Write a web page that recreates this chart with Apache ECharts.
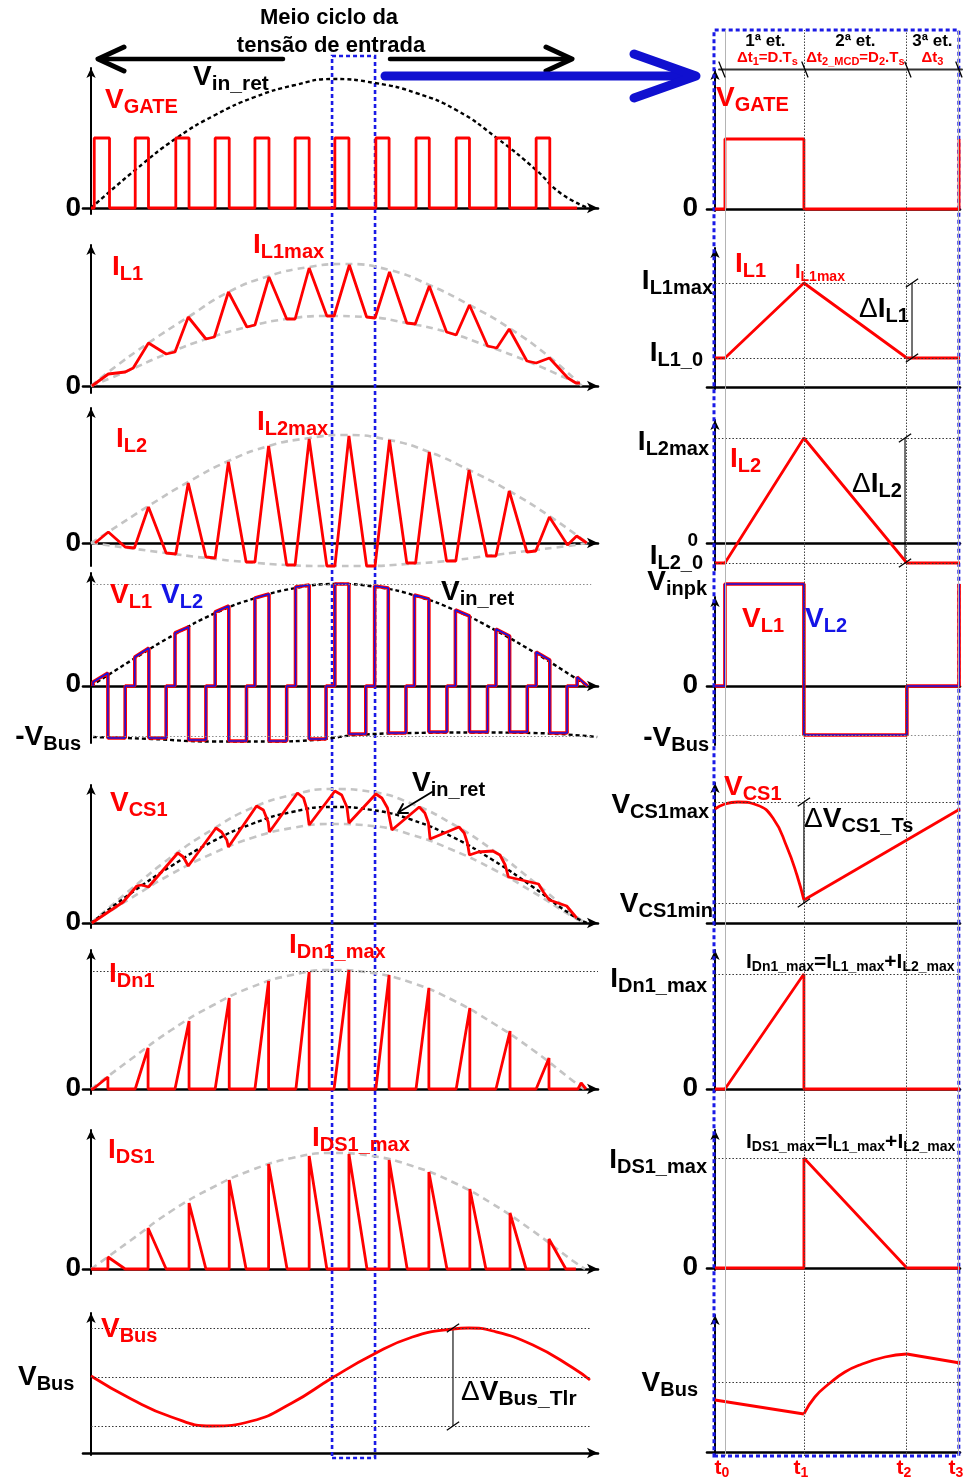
<!DOCTYPE html>
<html lang="pt">
<head>
<meta charset="utf-8">
<title>Formas de onda do conversor</title>
<script src="https://cdn.jsdelivr.net/npm/echarts@6.0.0/dist/echarts.min.js"></script>
<style>
html, body { margin: 0; padding: 0; background: #fff; }
#chart { width: 964px; height: 1479px; }
</style>
</head>
<body>
<div id="chart"></div>
<script>
// ================= Data =================
// Left column: time in switching periods (Ts) across one half cycle of the rectified input.
// Right column: time in Ts across one switching period (t0 = 0).
// Amplitudes are normalised units.

const stageTimes = [0, 0.339, 0.781, 1.0];            // t0, t1, t2, t3
const highlightedPeriod = [6.0, 7.07];                 // period shown in detail on the right

// --- V_GATE (left) ---
const gateRise = [0.08, 1.10, 2.11, 3.09, 4.08, 5.08, 6.07, 7.09, 8.09, 9.09, 10.08, 11.08];
const gateFall = [0.46, 1.43, 2.44, 3.44, 4.43, 5.43, 6.42, 7.42, 8.42, 9.42, 10.42, 11.42];
const gateHigh = 0.70;
const gateEnd = 12.10;
const vinRetGate = [[0,0],[1.10,0.38],[2.13,0.70],[3.09,0.93],[4.08,1.11],[5.08,1.23],[6.00,1.29],[7.07,1.25],[8.09,1.15],[9.09,0.98],[10.10,0.70],[11.08,0.38],[11.68,0.15],[12.37,0]];

// --- I_L1 (left) ---
const iL1 = [[0.02,0],[0.43,0.12],[0.85,0.14],[1.05,0.18],[1.43,0.43],[1.87,0.32],[2.09,0.34],[2.42,0.69],[2.86,0.47],[3.07,0.49],[3.42,0.94],[3.88,0.59],[4.08,0.61],[4.43,1.09],[4.87,0.67],[5.08,0.67],[5.43,1.18],[5.87,0.70],[6.05,0.70],[6.43,1.21],[6.86,0.69],[7.07,0.68],[7.43,1.14],[7.86,0.63],[8.07,0.62],[8.42,1.00],[8.85,0.54],[9.09,0.51],[9.42,0.81],[9.87,0.40],[10.10,0.38],[10.41,0.57],[10.85,0.25],[11.08,0.23],[11.41,0.28],[11.87,0.08],[12.07,0.03],[12.17,0.03]];
const iL1Upper = [[0,0],[0.43,0.14],[1.43,0.43],[2.42,0.69],[3.42,0.94],[4.43,1.10],[5.43,1.19],[6.30,1.22],[7.43,1.16],[8.42,1.01],[9.42,0.81],[10.41,0.58],[11.41,0.29],[12.22,0]];
const iL1Lower = [[0,0],[0.85,0.14],[1.87,0.32],[2.86,0.47],[3.88,0.59],[4.87,0.67],[5.87,0.70],[6.86,0.69],[7.86,0.63],[8.85,0.54],[9.87,0.40],[10.85,0.25],[11.87,0.07],[12.22,0]];

// --- I_L2 (left) ---
const iL2 = [[0.10,0],[0.43,0.11],[0.85,-0.04],[1.08,-0.05],[1.43,0.36],[1.87,-0.10],[2.11,-0.11],[2.42,0.60],[2.86,-0.14],[3.09,-0.15],[3.42,0.81],[3.86,-0.19],[4.08,-0.19],[4.42,0.97],[4.87,-0.22],[5.08,-0.22],[5.43,1.04],[5.87,-0.23],[6.07,-0.23],[6.42,1.07],[6.86,-0.23],[7.07,-0.23],[7.43,1.03],[7.86,-0.20],[8.08,-0.20],[8.42,0.91],[8.85,-0.18],[9.08,-0.18],[9.41,0.73],[9.85,-0.13],[10.08,-0.13],[10.41,0.52],[10.85,-0.09],[11.07,-0.08],[11.41,0.26],[11.86,-0.02],[12.09,0.07],[12.34,0]];
const iL2Upper = [[0,0],[0.43,0.11],[1.43,0.37],[2.42,0.61],[3.42,0.82],[4.42,0.97],[5.43,1.05],[6.30,1.08],[7.43,1.03],[8.42,0.91],[9.41,0.73],[10.41,0.52],[11.41,0.27],[12.35,0]];
const iL2Lower = [[0,0],[1.87,-0.10],[2.86,-0.15],[3.86,-0.19],[4.87,-0.22],[5.87,-0.23],[6.86,-0.23],[7.86,-0.21],[8.85,-0.18],[9.85,-0.13],[10.85,-0.08],[11.86,-0.03],[12.35,0]];

// --- V_L1 / V_L2 (left) ---
const vinRetVL = [[0,0],[1.1,0.28],[2.1,0.52],[3.1,0.73],[4.1,0.88],[5.1,0.98],[6.1,1.02],[7.1,0.99],[8.1,0.90],[9.1,0.75],[10.1,0.55],[11.1,0.32],[11.7,0.17],[12.36,0]];
const negVBusVL = [[0.05,-0.51],[1.5,-0.53],[3.0,-0.555],[4.5,-0.555],[5.6,-0.54],[6.0,-0.52],[6.6,-0.49],[8.0,-0.47],[9.5,-0.465],[11.0,-0.47],[12.6,-0.51]];
const vLLevels = [1.02, -0.50];
const vL = [[0.05,0],[0.05,0.04],[0.42,0.13],[0.42,-0.52],[0.85,-0.52],[0.85,0],[1.09,0],
  [1.09,0.29],[1.44,0.38],[1.44,-0.52],[1.87,-0.52],[1.87,0],[2.09,0],
  [2.09,0.53],[2.43,0.59],[2.43,-0.54],[2.86,-0.54],[2.86,0],[3.09,0],
  [3.09,0.74],[3.43,0.80],[3.43,-0.55],[3.87,-0.55],[3.87,0],[4.08,0],
  [4.08,0.88],[4.43,0.92],[4.43,-0.55],[4.87,-0.55],[4.87,0],[5.09,0],
  [5.09,0.99],[5.43,1.01],[5.43,-0.53],[5.85,-0.53],[5.85,0],[6.07,0],
  [6.07,1.02],[6.42,1.02],[6.42,-0.48],[6.84,-0.48],[6.84,0],[7.06,0],
  [7.06,1.00],[7.40,0.98],[7.40,-0.47],[7.84,-0.47],[7.84,0],[8.05,0],
  [8.05,0.91],[8.41,0.87],[8.41,-0.46],[8.86,-0.46],[8.86,0],[9.07,0],
  [9.07,0.76],[9.42,0.70],[9.42,-0.46],[9.87,-0.46],[9.87,0],[10.08,0],
  [10.08,0.57],[10.42,0.50],[10.42,-0.46],[10.86,-0.46],[10.86,0],[11.08,0],
  [11.08,0.34],[11.42,0.26],[11.42,-0.47],[11.85,-0.47],[11.85,0],[12.10,0],
  [12.10,0.09],[12.36,0]];

// --- V_CS1 (left) ---
const vCS1 = [[0.02,0],[0.80,0.21],[1.14,0.37],[1.26,0.38],[1.43,0.36],[2.16,0.70],[2.30,0.66],[2.42,0.57],[3.11,0.95],[3.25,0.91],[3.38,0.83],[3.42,0.76],[4.12,1.17],[4.29,1.13],[4.41,1.01],[4.44,0.91],[5.14,1.30],[5.29,1.25],[5.38,1.13],[5.43,0.98],[6.07,1.32],[6.24,1.28],[6.37,1.16],[6.42,1.00],[7.09,1.29],[7.24,1.25],[7.38,1.15],[7.49,0.93],[8.17,1.16],[8.31,1.10],[8.40,1.00],[8.44,0.84],[9.16,0.96],[9.29,0.90],[9.37,0.80],[9.42,0.68],[9.64,0.71],[10.00,0.72],[10.18,0.68],[10.31,0.58],[10.39,0.46],[11.14,0.39],[11.26,0.31],[11.41,0.23],[11.84,0.17],[12.09,0.05]];
const vCS1Upper = [[0,0],[1,0.34],[2,0.66],[3,0.93],[4,1.15],[5,1.28],[6,1.34],[7,1.31],[8,1.19],[9,0.99],[10,0.73],[11,0.42],[12,0.09],[12.3,0]];
const vCS1Lower = [[0,0],[1,0.25],[2,0.49],[3,0.69],[4,0.85],[5,0.95],[6,0.99],[7,0.97],[8,0.88],[9,0.73],[10,0.54],[11,0.31],[12,0.06],[12.3,0]];
const vinRetCS = [[0,0],[1,0.30],[2,0.57],[3,0.81],[4,0.99],[5,1.11],[6,1.16],[7,1.13],[8,1.03],[9,0.86],[10,0.63],[11,0.36],[12,0.07],[12.35,0]];

// --- I_Dn1 (left) ---
const idnStart = [0.05, 1.10, 2.09, 3.09, 4.08, 5.10, 6.05, 7.09, 8.09, 9.09, 10.08, 11.08];
const idnPeakT = [0.42, 1.42, 2.44, 3.44, 4.42, 5.43, 6.42, 7.42, 8.41, 9.43, 10.43, 11.40];
const idnPeak  = [0.12, 0.41, 0.68, 0.91, 1.08, 1.17, 1.19, 1.14, 1.01, 0.81, 0.58, 0.31];
const idnTail = [[12.12,0],[12.20,0.06],[12.32,0]];
const idnEnvelope = [[0,0],[1,0.30],[2,0.59],[3,0.83],[4,1.02],[5,1.14],[6,1.19],[7,1.16],[8,1.06],[9,0.89],[10,0.66],[11,0.39],[12,0.08],[12.27,0]];
const idnMaxLevel = 1.18;

// --- I_DS1 (left) ---
const idsJumpT = [0.42, 1.42, 2.44, 3.44, 4.42, 5.43, 6.42, 7.42, 8.41, 9.43, 10.43, 11.40];
const idsPeak  = [0.12, 0.41, 0.66, 0.89, 1.05, 1.13, 1.15, 1.09, 0.97, 0.80, 0.56, 0.30];
const idsZeroT = [0.85, 1.87, 2.86, 3.86, 4.88, 5.87, 6.87, 7.87, 8.86, 9.83, 10.83, 11.82];
const idsEnd = 12.07;
const idsEnvelope = [[0,0],[1,0.29],[2,0.58],[3,0.81],[4,0.99],[5,1.11],[6,1.16],[7,1.13],[8,1.03],[9,0.87],[10,0.65],[11,0.38],[12,0.08],[12.3,0]];

// --- V_Bus (left) ---
const vBusLeft = [[0,0.77],[1,0.54],[2,0.36],[3,0.27],[4,0.32],[5,0.50],[6,0.75],[7,0.98],[8,1.16],[9,1.24],[9.4,1.25],[10,1.22],[11,1.08],[12,0.85],[12.42,0.73]];
const vBusLevels = [1.25, 0.76, 0.27];
const vBusRippleAt = 9.01;

// --- Right column: one switching period ---
const gateRight = [[-0.043,0],[0,0],[0,0.70],[0.339,0.70],[0.339,0],[1.005,0],[1.005,0.70]];
const iL1Right = [[-0.043,0.29],[0,0.29],[0.339,1.04],[0.781,0.29],[1.009,0.29]];
const iL1RightLevels = [1.04, 0.29];
const dIL1At = 0.803;
const iL2Right = [[-0.043,-0.20],[0,-0.20],[0.339,1.05],[0.781,-0.20],[1.009,-0.20]];
const iL2RightLevels = [1.05, -0.20];
const dIL2At = 0.773;
const vLRight = [[-0.043,0],[0,0],[0,1.02],[0.339,1.02],[0.339,-0.49],[0.781,-0.49],[0.781,0],[1.005,0],[1.005,1.02]];
const vLRightLevels = [1.02, -0.49];
const vCS1RightFall = [[-0.043,1.14],[0,1.19],[0.056,1.21],[0.137,1.18],[0.206,1.05],[0.266,0.76],[0.309,0.48],[0.339,0.23]];
const vCS1RightRise = [[0.339,0.23],[1.009,1.14]];
const vCS1RightLevels = [1.21, 0.20];
const iDn1Right = [[-0.043,0],[0,0],[0.339,1.15],[0.339,0],[1.009,0]];
const iDn1RightMax = 1.15;
const iDS1Right = [[-0.043,0],[0.339,0],[0.339,1.10],[0.781,0],[1.009,0]];
const iDS1RightMax = 1.10;
const vBusRightFall1 = [[-0.043,0.52],[0.339,0.38]];
const vBusRightRise = [[0.339,0.38],[0.386,0.55],[0.451,0.69],[0.515,0.80],[0.579,0.87],[0.687,0.95],[0.781,0.98]];
const vBusRightFall2 = [[0.781,0.98],[1.009,0.89]];
const vBusRightAvg = 0.70;

// ================= Derived polylines =================
const gateLeft = [[0, 0]];
gateRise.forEach((r, k) => gateLeft.push([r, 0], [r, gateHigh], [gateFall[k], gateHigh], [gateFall[k], 0]));
gateLeft.push([gateEnd, 0]);

const iDn1Left = [[0, 0]];
idnStart.forEach((s, k) => iDn1Left.push([s, 0], [idnPeakT[k], idnPeak[k]], [idnPeakT[k], 0]));
idnTail.forEach(p => iDn1Left.push(p));

const iDS1Left = [[0, 0]];
idsJumpT.forEach((t, k) => iDS1Left.push([t, 0], [t, idsPeak[k]], [idsZeroT[k], 0]));
iDS1Left.push([idsEnd, 0]);

// ================= Layout & styles =================
const PX_PER_UNIT = 100;
const LEFT  = { left: 83,  width: 515, min: -0.2,   max: 12.62, arrow: true,  yOnZero: true,  yOffset: 0 };
const RIGHT = { left: 707, width: 253, min: -0.077, max: 1.009, arrow: false, yOnZero: false, yOffset: -8 };

const RED = '#ff0000', BLUE = '#1414e6', BLACK = '#000000';
const redLine   = { color: RED, width: 2.8 };
const envLine   = { color: '#c4c4c4', width: 2.6, type: [7, 5] };
const vinLine   = { color: BLACK, width: 2.4, type: [4, 3] };
const dimLine   = { color: BLACK, width: 1.1 };

const option = {
  animation: false,
  backgroundColor: '#ffffff',
  grid: [], xAxis: [], yAxis: [], series: []
};

function addPanel(col, base, yMin, yMax) {
  const i = option.grid.length;
  option.grid.push({
    left: col.left, width: col.width,
    top: base - yMax * PX_PER_UNIT, height: (yMax - yMin) * PX_PER_UNIT,
    containLabel: false, outerBoundsMode: 'none', show: false
  });
  option.xAxis.push({
    type: 'value', gridIndex: i, min: col.min, max: col.max,
    axisLine: { show: true, onZero: true, symbol: col.arrow ? ['none', 'arrow'] : 'none', symbolSize: [8, 11],
      lineStyle: { color: BLACK, width: 2.6 } },
    axisTick: { show: false }, axisLabel: { show: false }, splitLine: { show: false }
  });
  option.yAxis.push({
    type: 'value', gridIndex: i, min: yMin, max: yMax, offset: col.yOffset,
    axisLine: { show: true, onZero: col.yOnZero, symbol: ['none', 'arrow'], symbolSize: [7, 10],
      lineStyle: { color: BLACK, width: 2 } },
    axisTick: { show: false }, axisLabel: { show: false }, splitLine: { show: false }
  });
  return i;
}

function addLine(i, data, lineStyle, extra) {
  option.series.push(Object.assign({
    type: 'line', xAxisIndex: i, yAxisIndex: i, data: data,
    symbol: 'none', showSymbol: false, silent: true, clip: false, z: 3,
    emphasis: { disabled: true }, lineStyle: lineStyle
  }, extra || {}));
}

function addLevels(i, t0, t1, values, color) {
  option.series.push({
    type: 'line', xAxisIndex: i, yAxisIndex: i, data: [[t0, values[0]]],
    symbol: 'none', showSymbol: false, silent: true, z: 2, lineStyle: { opacity: 0 },
    markLine: {
      symbol: 'none', silent: true, animation: false, label: { show: false },
      lineStyle: { type: [1.5, 2], color: color || '#333', width: 1.2 },
      data: values.map(v => [{ coord: [t0, v] }, { coord: [t1, v] }])
    }
  });
}

function addDimension(i, t, v0, v1) {
  addLine(i, [[t, v0], [t, v1]], dimLine, {
    markPoint: {
      symbol: 'rect', symbolSize: [1.3, 15], symbolRotate: -55, silent: true, animation: false,
      itemStyle: { color: BLACK }, label: { show: false },
      data: [{ coord: [t, v0] }, { coord: [t, v1] }]
    }
  });
}

// ---- left column panels ----
const pGateL = addPanel(LEFT, 208, -0.06, 1.40);
addLine(pGateL, vinRetGate, vinLine, { smooth: true });
addLine(pGateL, gateLeft, redLine);

const pIL1L = addPanel(LEFT, 386, -0.07, 1.41);
addLine(pIL1L, iL1Upper, envLine, { smooth: true });
addLine(pIL1L, iL1Lower, envLine, { smooth: true });
addLine(pIL1L, iL1, redLine);

const pIL2L = addPanel(LEFT, 543, -0.23, 1.35);
addLine(pIL2L, iL2Upper, envLine, { smooth: true });
addLine(pIL2L, iL2Lower, envLine, { smooth: true });
addLine(pIL2L, iL2, redLine);

const pVLL = addPanel(LEFT, 686, -0.57, 1.13);
addLevels(pVLL, 0.05, 12.45, vLLevels, '#8a8a8a');
addLine(pVLL, vinRetVL, vinLine, { smooth: true });
addLine(pVLL, negVBusVL, vinLine, { smooth: true });
addLine(pVLL, vL, { color: RED, width: 3.6 });
addLine(pVLL, vL, { color: BLUE, width: 1.5 }, { z: 4 });

const pVCSL = addPanel(LEFT, 923, -0.05, 1.38);
addLine(pVCSL, vCS1Upper, envLine, { smooth: true });
addLine(pVCSL, vCS1Lower, envLine, { smooth: true });
addLine(pVCSL, vinRetCS, vinLine, { smooth: true });
addLine(pVCSL, vCS1, redLine);

const pIDnL = addPanel(LEFT, 1089, -0.05, 1.39);
addLevels(pIDnL, 0.05, 12.62, [idnMaxLevel], '#333');
addLine(pIDnL, idnEnvelope, envLine, { smooth: true });
addLine(pIDnL, iDn1Left, redLine);

const pIDSL = addPanel(LEFT, 1269, -0.05, 1.39);
addLine(pIDSL, idsEnvelope, envLine, { smooth: true });
addLine(pIDSL, iDS1Left, redLine);

const pVBusL = addPanel(LEFT, 1453, -0.02, 1.40);
addLevels(pVBusL, 0, 12.42, vBusLevels, '#333');
addDimension(pVBusL, vBusRippleAt, vBusLevels[2], vBusLevels[0]);
addLine(pVBusL, vBusLeft, redLine, { smooth: true });

// ---- right column panels ----
const pGateR = addPanel(RIGHT, 209, -0.02, 1.39);
addLine(pGateR, gateRight, redLine);

const pIL1R = addPanel(RIGHT, 387, -0.02, 1.39);
addLevels(pIL1R, -0.043, 1.009, iL1RightLevels);
addDimension(pIL1R, dIL1At, iL1RightLevels[1], iL1RightLevels[0]);
addLine(pIL1R, iL1Right, redLine);

const pIL2R = addPanel(RIGHT, 543, -0.27, 1.23);
addLevels(pIL2R, -0.043, 1.009, iL2RightLevels);
addDimension(pIL2R, dIL2At, iL2RightLevels[1], iL2RightLevels[0]);
addLine(pIL2R, iL2Right, redLine);

const pVLR = addPanel(RIGHT, 686, -0.59, 0.89);
addLevels(pVLR, -0.043, 1.009, vLRightLevels, '#8a8a8a');
addLine(pVLR, vLRight, { color: RED, width: 3.6 });
addLine(pVLR, vLRight, { color: BLUE, width: 1.6 }, { z: 4 });

const pVCSR = addPanel(RIGHT, 923, -0.02, 1.40);
addLevels(pVCSR, -0.043, 1.009, vCS1RightLevels);
addDimension(pVCSR, stageTimes[1], vCS1RightLevels[1], vCS1RightLevels[0]);
addLine(pVCSR, vCS1RightFall, redLine, { smooth: true });
addLine(pVCSR, vCS1RightRise, redLine);

const pIDnR = addPanel(RIGHT, 1089, -0.02, 1.39);
addLevels(pIDnR, -0.043, 1.009, [iDn1RightMax]);
addLine(pIDnR, iDn1Right, redLine);

const pIDSR = addPanel(RIGHT, 1268, -0.02, 1.38);
addLevels(pIDSR, -0.043, 1.009, [iDS1RightMax]);
addLine(pIDSR, iDS1Right, redLine);

const pVBusR = addPanel(RIGHT, 1452, -0.02, 1.37);
addLevels(pVBusR, -0.043, 1.009, [vBusRightAvg]);
addLine(pVBusR, vBusRightFall1, redLine);
addLine(pVBusR, vBusRightRise, redLine, { smooth: true });
addLine(pVBusR, vBusRightFall2, redLine);

// ---- overlays: highlighted period (left) and stage boundaries (right) ----
function addOverlay(col, top, height) {
  const i = option.grid.length;
  option.grid.push({ left: col.left, width: col.width, top: top, height: height, containLabel: false, outerBoundsMode: 'none', show: false });
  option.xAxis.push({ type: 'value', gridIndex: i, min: col.min, max: col.max, show: false });
  option.yAxis.push({ type: 'value', gridIndex: i, min: 0, max: 1, show: false });
  return i;
}
const frameStyle = { color: 'rgba(0,0,0,0)', borderColor: '#1a1ae6', borderWidth: 2.6, borderType: [4, 3] };

const oLeft = addOverlay(LEFT, 56, 1402);
option.series.push({
  type: 'line', xAxisIndex: oLeft, yAxisIndex: oLeft, data: [[highlightedPeriod[0], 0]],
  symbol: 'none', silent: true, z: 20, lineStyle: { opacity: 0 },
  markArea: { silent: true, animation: false, itemStyle: frameStyle, label: { show: false },
    data: [[{ xAxis: highlightedPeriod[0] }, { xAxis: highlightedPeriod[1] }]] }
});

const oRight = addOverlay(RIGHT, 30, 1426);
option.series.push({
  type: 'line', xAxisIndex: oRight, yAxisIndex: oRight, data: [[stageTimes[0], 0]],
  symbol: 'none', silent: true, z: 1, lineStyle: { opacity: 0 },
  markLine: { symbol: 'none', silent: true, animation: false, label: { show: false },
    data: stageTimes.map((t, k) => ({
      xAxis: t,
      lineStyle: (k === 1 || k === 2)
        ? { color: '#444', width: 1, type: [1.5, 1.5] }
        : { color: '#b4b4b4', width: 1, type: 'solid' }
    })) }
});
option.series.push({
  type: 'line', xAxisIndex: oRight, yAxisIndex: oRight, data: [[stageTimes[0], 0]],
  symbol: 'none', silent: true, z: 20, lineStyle: { opacity: 0 },
  markArea: { silent: true, animation: false, label: { show: false },
    itemStyle: Object.assign({}, frameStyle, { borderWidth: 3 }),
    data: [[{ xAxis: -0.047 }, { xAxis: 1.004 }]] }
});

const chart = echarts.init(document.getElementById('chart'), null, { renderer: 'canvas' });
chart.setOption(option);

// ================= Annotations =================
const FONT = "'Liberation Sans', Arial, Helvetica, sans-serif";
function richSet(color, big, small) {
  const pad = Math.round(big * 0.1);
  return {
    m: { fill: color, fontFamily: FONT, fontWeight: 'bold', fontSize: big, verticalAlign: 'bottom', padding: [0, 0, pad, 0] },
    d: { fill: color, fontFamily: FONT, fontWeight: 'normal', fontSize: big, verticalAlign: 'bottom', padding: [0, 0, pad, 0] },
    s: { fill: color, fontFamily: FONT, fontWeight: 'bold', fontSize: small, verticalAlign: 'bottom' }
  };
}
function txt(x, y, markup, color, big, small, align) {
  const a = align || 'left';
  return { type: 'text', x: x, y: y, z: 100, silent: true,
    style: { text: markup, rich: richSet(color, big, small), align: a, textAlign: a, verticalAlign: 'middle', textVerticalAlign: 'middle' } };
}
function seg(x1, y1, x2, y2, color, w) {
  return { type: 'line', z: 90, silent: true, shape: { x1, y1, x2, y2 }, style: { stroke: color, lineWidth: w, lineCap: 'round' } };
}
function poly(points, color, w) {
  return { type: 'polyline', z: 90, silent: true, shape: { points }, style: { stroke: color, fill: null, lineWidth: w, lineCap: 'round', lineJoin: 'round' } };
}

const g = [];
// header and arrows
g.push(txt(329, 19, '{m|Meio ciclo da}', BLACK, 22, 14, 'center'));
g.push(txt(331, 47, '{m|tensão de entrada}', BLACK, 22, 14, 'center'));
g.push(seg(99, 59, 283, 59, BLACK, 4.5));
g.push(poly([[124, 47], [98, 59], [124, 71]], BLACK, 5));
g.push(seg(390, 59, 571, 59, BLACK, 4.5));
g.push(poly([[546, 47], [572, 59], [546, 71]], BLACK, 5));
g.push(seg(385, 76, 690, 76, '#1010d0', 9));
g.push(poly([[634, 54], [696, 76], [634, 98]], '#1010d0', 9));

// left labels
g.push(txt(193, 79, '{m|V}{s|in_ret}', BLACK, 28, 21));
g.push(txt(105, 102, '{m|V}{s|GATE}', RED, 28, 20));
[210, 388, 545, 686, 924, 1090, 1270].forEach(y => g.push(txt(81, y, '{m|0}', BLACK, 28, 20, 'right')));
g.push(txt(112, 269, '{m|I}{s|L1}', RED, 28, 20));
g.push(txt(253, 247, '{m|I}{s|L1max}', RED, 28, 20));
g.push(txt(116, 441, '{m|I}{s|L2}', RED, 28, 20));
g.push(txt(257, 424, '{m|I}{s|L2max}', RED, 28, 20));
g.push(txt(110, 597, '{m|V}{s|L1}', RED, 28, 20));
g.push(txt(161, 597, '{m|V}{s|L2}', BLUE, 28, 20));
g.push(txt(441, 594, '{m|V}{s|in_ret}', BLACK, 28, 20));
g.push(txt(81, 739, '{m|-V}{s|Bus}', BLACK, 28, 20, 'right'));
g.push(txt(110, 805, '{m|V}{s|CS1}', RED, 28, 20));
g.push(txt(412, 785, '{m|V}{s|in_ret}', BLACK, 28, 20));
g.push(seg(432, 792, 399, 812, BLACK, 2));
g.push(poly([[403, 804], [398, 813], [408, 813]], BLACK, 2));
g.push(txt(109, 976, '{m|I}{s|Dn1}', RED, 28, 20));
g.push(txt(289, 947, '{m|I}{s|Dn1_max}', RED, 28, 20));
g.push(txt(108, 1152, '{m|I}{s|DS1}', RED, 28, 20));
g.push(txt(312, 1140, '{m|I}{s|DS1_max}', RED, 28, 20));
g.push(txt(101, 1331, '{m|V}{s|Bus}', RED, 28, 20));
g.push(txt(18, 1379, '{m|V}{s|Bus}', BLACK, 28, 20));
g.push(txt(461, 1394, '{d|Δ}{m|V}{s|Bus_Tlr}', BLACK, 28, 21));

// right labels
g.push(txt(716, 100, '{m|V}{s|GATE}', RED, 28, 20));
[210, 687, 1090, 1269].forEach(y => g.push(txt(698, y, '{m|0}', BLACK, 28, 20, 'right')));
g.push(txt(713, 283, '{m|I}{s|L1max}', BLACK, 28, 20, 'right'));
g.push(txt(703, 355, '{m|I}{s|L1_0}', BLACK, 28, 20, 'right'));
g.push(txt(735, 266, '{m|I}{s|L1}', RED, 28, 20));
g.push(txt(795, 273, '{m|I}{s|L1max}', RED, 20, 14));
g.push(txt(859, 311, '{d|Δ}{m|I}{s|L1}', BLACK, 28, 20));
g.push(txt(709, 444, '{m|I}{s|L2max}', BLACK, 28, 20, 'right'));
g.push(txt(698, 542, '{m|0}', BLACK, 19, 13, 'right'));
g.push(txt(703, 558, '{m|I}{s|L2_0}', BLACK, 28, 20, 'right'));
g.push(txt(730, 461, '{m|I}{s|L2}', RED, 28, 20));
g.push(txt(852, 486, '{d|Δ}{m|I}{s|L2}', BLACK, 28, 20));
g.push(txt(707, 584, '{m|V}{s|inpk}', BLACK, 28, 20, 'right'));
g.push(txt(709, 740, '{m|-V}{s|Bus}', BLACK, 28, 20, 'right'));
g.push(txt(742, 621, '{m|V}{s|L1}', RED, 28, 20));
g.push(txt(805, 621, '{m|V}{s|L2}', BLUE, 28, 20));
g.push(txt(709, 807, '{m|V}{s|CS1max}', BLACK, 28, 20, 'right'));
g.push(txt(713, 906, '{m|V}{s|CS1min}', BLACK, 28, 20, 'right'));
g.push(txt(724, 789, '{m|V}{s|CS1}', RED, 28, 20));
g.push(txt(804, 821, '{d|Δ}{m|V}{s|CS1_Ts}', BLACK, 28, 20));
g.push(txt(707, 981, '{m|I}{s|Dn1_max}', BLACK, 28, 20, 'right'));
g.push(txt(746, 963, '{m|I}{s|Dn1_max}{m|=I}{s|L1_max}{m|+I}{s|L2_max}', BLACK, 21, 14));
g.push(txt(707, 1162, '{m|I}{s|DS1_max}', BLACK, 28, 20, 'right'));
g.push(txt(746, 1143, '{m|I}{s|DS1_max}{m|=I}{s|L1_max}{m|+I}{s|L2_max}', BLACK, 21, 14));
g.push(txt(698, 1385, '{m|V}{s|Bus}', BLACK, 28, 20, 'right'));

// stage timeline, stage names and instants, placed from the stage times
const px = t => chart.convertToPixel({ xAxisIndex: oRight }, t);
const sx = stageTimes.map(px);
g.push(seg(719, 69.5, 962, 69.5, '#333', 2));
[sx[0] - 3, sx[1] + 1, sx[2] + 1, sx[3] + 1].forEach(x => g.push(seg(x - 3, 62, x + 3, 77, BLACK, 1.3)));
const stageNames = ['{m|1ª et.}', '{m|2ª et.}', '{m|3ª et.}'];
const stageDur = ['{m|Δt}{s|1}{m|=D.T}{s|s}', '{m|Δt}{s|2_MCD}{m|=D}{s|2}{m|.T}{s|s}', '{m|Δt}{s|3}'];
for (let k = 0; k < 3; k++) {
  const cx = (sx[k] + sx[k + 1]) / 2;
  g.push(txt(cx + (k === 0 ? 1 : 0), 42, stageNames[k], BLACK, 17, 11, 'center'));
  g.push(txt(cx + (k === 0 ? 3 : 0), 59, stageDur[k], RED, 15, 11, 'center'));
}
sx.forEach((x, k) => g.push(txt(k === 3 ? x - 2 : x - 3, 1469, '{m|t}{s|' + k + '}', RED, 21, 14, 'center')));

chart.setOption({ graphic: g });
</script>
</body>
</html>
